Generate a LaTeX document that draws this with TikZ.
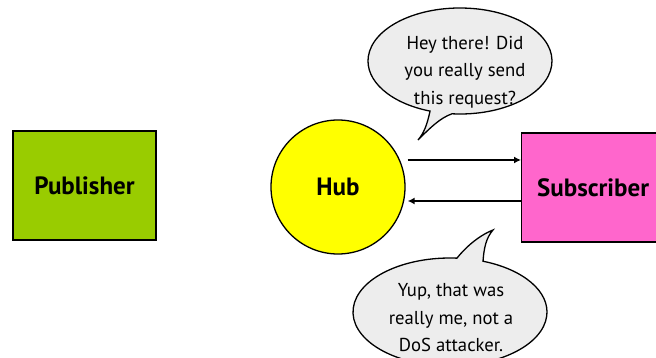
\documentclass[tikz,border=0pt]{standalone}
\usepackage{fontspec}
\setmainfont{PT Sans}
\usetikzlibrary{arrows.meta,calc}
\definecolor{pubgreen}{HTML}{99CC00}
\definecolor{hubyellow}{HTML}{FFFF00}
\definecolor{subpink}{HTML}{FF66CC}
\definecolor{bubblegray}{HTML}{EDEDED}
\begin{document}
\begin{tikzpicture}[x=1pt,y=1pt,
  party/.style={draw=black, line width=1.3pt, minimum width=143pt,
    minimum height=109pt, inner sep=0pt,
    font=\fontsize{25}{30}\selectfont\bfseries},
  hubnode/.style={circle, draw=black, line width=1.3pt, fill=hubyellow,
    minimum size=134pt, inner sep=0pt,
    font=\fontsize{25}{30}\selectfont\bfseries},
  msg/.style={-{Latex[length=7pt,width=7pt]}, line width=1.8pt},
  bubble/.style={draw=black, line width=1.3pt, fill=bubblegray},
  saytext/.style={align=center, inner sep=0pt,
    font=\fontsize{18.7}{27.5}\selectfont}]
\useasboundingbox (0,0) rectangle (656,-358);
\clip (0,0) rectangle (656,-358);

% the three parties
\node[party, fill=pubgreen] (publisher) at (84.5,-185.5) {Publisher};
\node[hubnode] (hub) at (338,-187) {Hub};
\node[party, fill=subpink, anchor=west] (subscriber) at (521,-187.5) {Subscriber};

% request and confirmation between hub and subscriber
\coordinate (hubport) at ([xshift=2pt]hub.east);
\draw[msg] (hubport |- 0,-160) -- (subscriber.west |- 0,-160);
\draw[msg] (subscriber.west |- 0,-201) -- (hubport |- 0,-201);

% speech bubble of the hub
\path[bubble] (460,-61) ++(265:92 and 53)
  arc[start angle=265, end angle=611, x radius=92, y radius=53]
  .. controls (427,-125) and (424,-133) .. (418,-140)
  .. controls (430,-128) and (440,-118) .. cycle;
\node[saytext] (ask) at (465,-72) {Hey there! Did\\you really send\\this request?};

% speech bubble of the subscriber
\path[bubble] (450,-312) ++(85.9:97 and 54)
  arc[start angle=85.9, end angle=430.1, x radius=97, y radius=54]
  .. controls (484,-248) and (486,-238) .. (493,-230)
  .. controls (478,-236) and (465,-248) .. cycle;
\node[saytext] (reply) at (451,-318) {Yup, that was\\really me, not a\\DoS attacker.};
\end{tikzpicture}
\end{document}
